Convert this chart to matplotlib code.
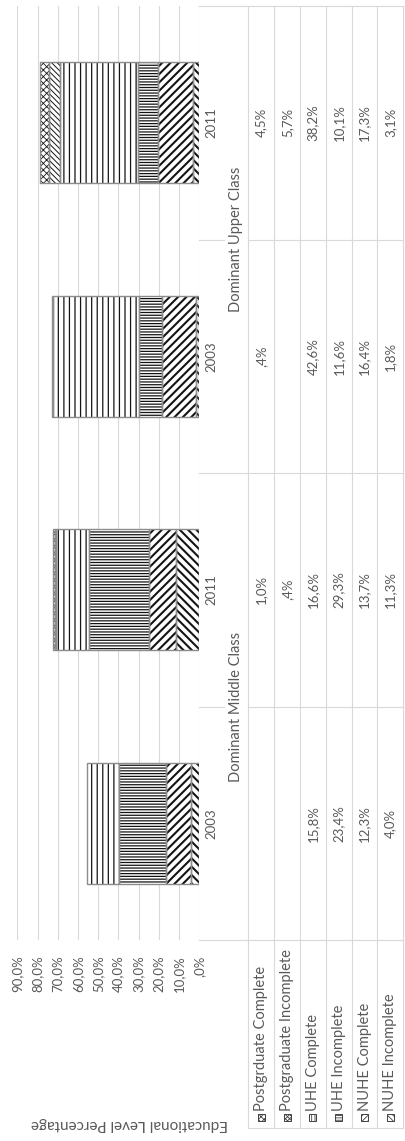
import matplotlib
matplotlib.use("Agg")
import matplotlib.pyplot as plt
import matplotlib.transforms as mtransforms
from matplotlib.lines import Line2D
from matplotlib.patches import Rectangle
import numpy as np

# ---------------- data ----------------
group_labels = ["Dominant Middle Class", "Dominant Upper Class"]
year_labels = ["2003", "2011", "2003", "2011"]
series_names = ["Postgrduate Complete", "Postgraduate Incomplete", "UHE Complete",
                "UHE Incomplete", "NUHE Complete", "NUHE Incomplete"]
postgrad_complete = [None, 1.0, 0.4, 4.5]
postgrad_incomplete = [None, 0.4, None, 5.7]
uhe_complete = [15.8, 16.6, 42.6, 38.2]
uhe_incomplete = [23.4, 29.3, 11.6, 10.1]
nuhe_complete = [12.3, 13.7, 16.4, 17.3]
nuhe_incomplete = [4.0, 11.3, 1.8, 3.1]
tick_values = [0, 10, 20, 30, 40, 50, 60, 70, 80, 90]
axis_title = "Educational Level Percentage"

series_values = [postgrad_complete, postgrad_incomplete, uhe_complete,
                 uhe_incomplete, nuhe_complete, nuhe_incomplete]

# ---------------- style ----------------
W, H = 405, 1141
FONT = ["Lato", "DejaVu Sans"]
TXT = "#595959"
GRID = "#d9d9d9"
FS = 9.5        # numbers
FS_TXT = 10.5   # word labels
FS_TITLE = 11
hatches = ["xxxxx", "\\\\\\\\\\\\", "|||", "------", "////", "\\\\\\\\"]
key_hatches = ["xxxxxx", "xxxxxxxx", "|||||", "-------", "//////", "\\\\\\\\\\\\"]
hatch_lw = [0.6, 0.7, 0.9, 0.9, 1.5, 1.5]
HATCH_COLOR = "#141414"
OUTLINE = "#8c8c8c"

plt.rcParams["font.family"] = FONT


def fx(px):
    return px / W


def fy(py):
    return 1 - py / H


def pct(v):
    s = f"{v:.1f}".replace(".", ",")
    if s.startswith("0,"):
        s = s[1:]
    return s + "%"


fig = plt.figure(figsize=(W / 100, H / 100), dpi=100)
fig.patch.set_facecolor("white")

x_left, x_zero = 17.3, 199.3
y_top, y_bot = 6, 940
ax = fig.add_axes([fx(x_left), fy(y_bot), fx(x_zero) - fx(x_left), fy(y_top) - fy(y_bot)])
ax.set_xlim(90, 0)
ax.set_ylim(-0.5, 3.5)
for s in ax.spines.values():
    s.set_visible(False)
ax.set_yticks([])
ax.set_xticks(tick_values)
ax.set_xticklabels([pct(v) for v in tick_values])
ax.tick_params(axis="x", length=0, pad=11, labelrotation=90, labelcolor=TXT, labelsize=FS)
ax.grid(axis="x", color=GRID, linewidth=0.8)
ax.set_axisbelow(True)

ypos = np.arange(len(year_labels))
bar_h = 0.52

# stack from 0 outward: last series first
left = np.zeros(len(ypos))
for i in reversed(range(len(series_values))):
    vals = np.array([0.0 if v is None else v for v in series_values[i]])
    mask = vals > 0
    with plt.rc_context({"hatch.linewidth": hatch_lw[i]}):
        bars = ax.barh(ypos[mask], vals[mask], left=left[mask], height=bar_h,
                       color="white", edgecolor=HATCH_COLOR, linewidth=0,
                       hatch=hatches[i], zorder=2)
        for b in bars:
            if hasattr(b, "set_hatch_linewidth"):
                b.set_hatch_linewidth(hatch_lw[i])
    ax.barh(ypos[mask], vals[mask], left=left[mask], height=bar_h,
            fill=False, edgecolor=OUTLINE, linewidth=1.0, zorder=3)
    left = left + vals

# ---------------- data table ----------------
blend = mtransforms.blended_transform_factory(fig.transFigure, ax.transData)
col_edges = [248.3, 274.0, 300.0, 325.7, 351.7, 377.3, 403.3]
col_centers = [(col_edges[k] + col_edges[k + 1]) / 2 for k in range(6)]


def seg_data(y, x0, x1):
    fig.add_artist(Line2D([fx(x0), fx(x1)], [y, y], transform=blend,
                          color=GRID, linewidth=0.8))


def seg_fig(x0, y0, x1, y1):
    fig.add_artist(Line2D([fx(x0), fx(x1)], [fy(y0), fy(y1)], transform=fig.transFigure,
                          color=GRID, linewidth=0.8))


# vertical lines of table / legend
for xe in col_edges:
    seg_fig(xe, y_top, xe, 1128)
# horizontal lines
seg_data(3.5, x_zero, 403.3)
seg_data(-0.5, x_zero, 403.3)
seg_data(1.5, x_zero, 403.3)
for yb in (0.5, 2.5):
    seg_data(yb, x_zero, 224)
    seg_data(yb, 248.3, 403.3)
seg_fig(248.3, 1128, 403.3, 1128)

# year and group labels
for k, yl in enumerate(year_labels):
    fig.text(fx(211), ypos[k], yl, transform=blend, rotation=90, ha="center",
             va="center", color=TXT, fontsize=FS)
for g, gl in enumerate(group_labels):
    fig.text(fx(236), 2 * g + 0.5, gl, transform=blend, rotation=90, ha="center",
             va="center", color=TXT, fontsize=FS_TXT)

# values
for i, vals in enumerate(series_values):
    for k, v in enumerate(vals):
        if v is None:
            continue
        fig.text(fx(col_centers[i]), ypos[k], pct(v), transform=blend, rotation=90,
                 ha="center", va="center", color=TXT, fontsize=FS)

# legend rows
for i, name in enumerate(series_names):
    cx = col_centers[i]
    with plt.rc_context({"hatch.linewidth": 0.6}):
        key = Rectangle((fx(cx - 3.5), fy(1121)), fx(7), fy(1114) - fy(1121),
                        transform=fig.transFigure, facecolor="white",
                        edgecolor="#404040", linewidth=0.7, hatch=key_hatches[i])
    fig.add_artist(key)
    fig.text(fx(cx), fy(1111), name, rotation=90, ha="center", va="bottom",
             color=TXT, fontsize=FS_TXT)

# axis title (upside down)
fig.text(fx(129), fy(1124), axis_title, rotation=180, ha="center", va="center",
         color=TXT, fontsize=FS_TITLE)

fig.savefig("out.png", dpi=100, facecolor="white")
